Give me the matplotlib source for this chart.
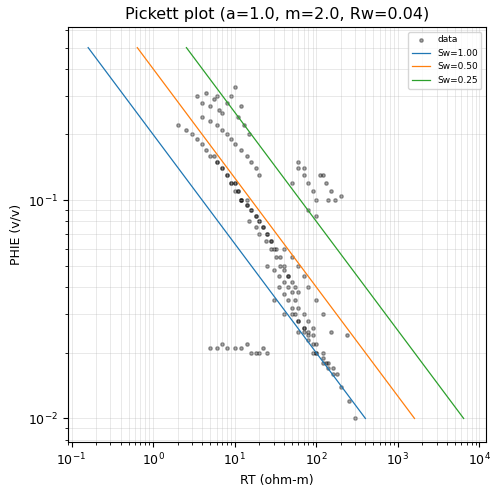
import numpy as np
import matplotlib
matplotlib.use("Agg")
import matplotlib.pyplot as plt

a, m, n, Rw = 1.0, 2.0, 2.0, 0.04
sw_values = [1.00, 0.50, 0.25]
phi_line = [0.01, 0.5]

rt_data = [2.0,2.5,3.0,3.5,4.0,4.5,5.0,5.5,6.0,7.0,8.0,9.0,10,11,12,14,
 3.5,4,4.5,5,5.5,6,6.5,7,8,9,10,11,12,13,15,
 4,5,6,7,8,9,10,12,14,16,18,20,
 6,7,8,9,10,11,12,14,16,18,20,22,25,28,30,
 10,12,14,16,18,20,22,25,28,32,36,40,45,
 15,18,20,24,28,32,36,40,45,50,55,60,
 25,30,35,40,45,50,55,60,70,80,90,
 35,40,45,50,55,60,70,80,90,100,120,
 50,60,70,80,90,100,120,140,160,
 70,80,100,120,140,160,200,250,300,
 60,70,80,90,100,110,130,150,170,200,
 50,60,70,80,100,120,140,
 5,6,7,8,10,12,14,16,18,20,22,25,
 40,50,60,70,80,100,120,150,
 30,40,60,90,130,180,240]
phi_data = [0.22,0.21,0.2,0.19,0.18,0.17,0.16,0.16,0.15,0.14,0.13,0.12,0.12,0.11,0.1,0.1,
 0.3,0.28,0.31,0.27,0.29,0.3,0.26,0.25,0.28,0.3,0.33,0.24,0.27,0.22,0.2,
 0.24,0.23,0.22,0.21,0.2,0.19,0.18,0.17,0.16,0.15,0.14,0.13,
 0.15,0.14,0.13,0.12,0.12,0.11,0.1,0.095,0.09,0.085,0.08,0.075,0.07,0.065,0.06,
 0.11,0.1,0.095,0.09,0.085,0.08,0.075,0.07,0.065,0.06,0.055,0.05,0.045,
 0.08,0.075,0.07,0.065,0.06,0.055,0.05,0.048,0.045,0.042,0.04,0.038,
 0.05,0.048,0.045,0.042,0.04,0.038,0.035,0.032,0.03,0.028,0.026,
 0.04,0.037,0.035,0.032,0.03,0.028,0.026,0.024,0.022,0.02,0.018,
 0.03,0.028,0.026,0.025,0.024,0.022,0.02,0.018,0.017,
 0.025,0.023,0.02,0.019,0.017,0.016,0.014,0.012,0.01,
 0.14,0.13,0.12,0.11,0.1,0.13,0.12,0.11,0.1,0.105,
 0.12,0.15,0.14,0.09,0.085,0.13,0.1,
 0.021,0.021,0.022,0.021,0.021,0.021,0.022,0.02,0.02,0.02,0.021,0.02,
 0.06,0.055,0.05,0.045,0.04,0.035,0.03,0.025,
 0.035,0.03,0.025,0.02,0.018,0.016,0.024]

fig, ax = plt.subplots(figsize=(5.02, 4.95), dpi=100)
ax.scatter(rt_data, phi_data, s=6, c="black", alpha=0.35, label="data")
for sw in sw_values:
    rt_line = [a * Rw / (p ** m * sw ** n) for p in phi_line]
    ax.plot(rt_line, phi_line, lw=0.9, label=f"Sw={sw:.2f}")
ax.set_xscale("log")
ax.set_yscale("log")
ax.set_xlim(0.09, 1.2e4)
ax.set_ylim(0.0078, 0.62)
ax.grid(True, which="both", lw=0.5, alpha=0.4)
ax.tick_params(labelsize=9)
ax.set_xlabel("RT (ohm-m)", fontsize=9)
ax.set_ylabel("PHIE (v/v)", fontsize=9)
ax.set_title("Pickett plot (a=1.0, m=2.0, Rw=0.04)", fontsize=11.5)
ax.legend(loc="upper right", fontsize=6.5)
fig.subplots_adjust(left=0.135, right=0.968, top=0.945, bottom=0.107)
fig.savefig("out.png")
